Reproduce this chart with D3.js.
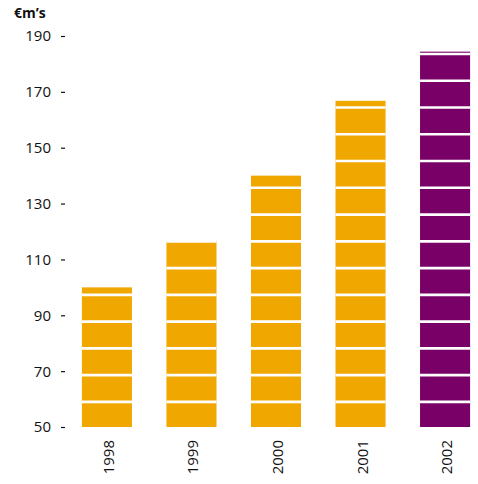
<!DOCTYPE html>
<html>
<head>
<meta charset="utf-8">
<script src="https://cdn.jsdelivr.net/npm/d3@7"></script>
<style>
  body { margin: 0; background: #fff; }
  svg { display: block; font-family: "Open Sans", "Noto Sans", sans-serif; }
</style>
</head>
<body>
<svg id="chart"></svg>
<script>
const years = ["1998", "1999", "2000", "2001", "2002"];
const values = [100, 116.7, 140, 166.8, 184.4];
const barColors = ["#f0a800", "#f0a800", "#f0a800", "#f0a800", "#790066"];
const yTicks = [50, 70, 90, 110, 130, 150, 170, 190];
const unitLabel = "€m’s";

const width = 478;
const height = 484;

const svg = d3.select("#chart")
    .attr("width", width)
    .attr("height", height);

const x = d3.scaleBand()
    .domain(years)
    .range([65, 487])
    .paddingInner(0.408)
    .paddingOuter(0.2);

const y = d3.scaleLinear()
    .domain([50, 190])
    .range([427, 36]);

// white stripes across bars
const stripeStart = 59;
const stripeStep = 9.58;
const stripes = d3.range(stripeStart, 190, stripeStep);

const bars = svg.append("g")
    .selectAll("g")
    .data(years)
    .join("g");

bars.append("rect")
    .attr("x", d => x(d))
    .attr("width", x.bandwidth())
    .attr("y", (d, i) => y(values[i]))
    .attr("height", (d, i) => y(50) - y(values[i]))
    .attr("fill", (d, i) => barColors[i]);

bars.each(function(d, i) {
    d3.select(this).selectAll("line")
        .data(stripes.filter(s => s < values[i] + 0.3))
        .join("line")
        .attr("x1", x(d))
        .attr("x2", x(d) + x.bandwidth())
        .attr("y1", s => y(s))
        .attr("y2", s => y(s))
        .attr("stroke", "#fff")
        .attr("stroke-width", 2.6);
});

// y axis: labels and small dashes, no domain line
const yAxis = svg.append("g");
yAxis.selectAll("text")
    .data(yTicks)
    .join("text")
    .attr("x", 51)
    .attr("y", d => y(d))
    .attr("dy", "0.36em")
    .attr("text-anchor", "end")
    .attr("font-size", 15)
    .attr("fill", "#111")
    .text(d => d);
yAxis.selectAll("line")
    .data(yTicks)
    .join("line")
    .attr("x1", 61)
    .attr("x2", 65)
    .attr("y1", d => y(d) + 0.5)
    .attr("y2", d => y(d) + 0.5)
    .attr("stroke", "#111")
    .attr("stroke-width", 1.2);

// x labels rotated
svg.append("g")
    .selectAll("text")
    .data(years)
    .join("text")
    .attr("transform", d => `translate(${x(d) + x.bandwidth() / 2 + 7},440) rotate(-90)`)
    .attr("text-anchor", "end")
    .attr("font-size", 15)
    .attr("fill", "#111")
    .text(d => d);

svg.append("text")
    .attr("x", 14)
    .attr("y", 18)
    .attr("font-size", 14)
    .attr("font-weight", "bold")
    .attr("fill", "#111")
    .text(unitLabel);
</script>
</body>
</html>
